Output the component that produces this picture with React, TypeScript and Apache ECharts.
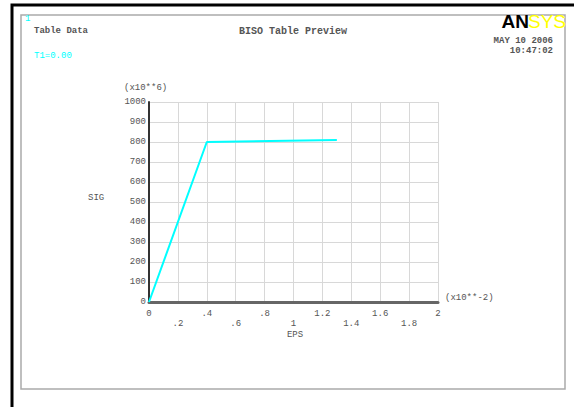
import React, { useEffect, useRef } from "react";
import * as echarts from "echarts";

const eps = [0, 0.4, 1.3];
const sig = [0, 800, 810];
const xTickLabels = ["0", ".2", ".4", ".6", ".8", "1", "1.2", "1.4", "1.6", "1.8", "2"];
const yTickLabels = ["0", "100", "200", "300", "400", "500", "600", "700", "800", "900", "1000"];
const titleText = "BISO Table Preview";
const xName = "EPS";
const yName = "SIG";
const xExp = "(x10**-2)";
const yExp = "(x10**6)";
const dateText = "MAY 10 2006";
const timeText = "10:47:02";

const MONO = "'Liberation Mono', 'DejaVu Sans Mono', monospace";
const TXT = "#555";

export default function App() {
  const ref = useRef<HTMLDivElement>(null);
  useEffect(() => {
    if (!ref.current) return;
    const chart = echarts.init(ref.current, undefined, { renderer: "svg" });
    const data = eps.map((e, i) => [e, sig[i]]);
    chart.setOption({
      animation: false,
      backgroundColor: "#fff",
      grid: { left: 149, top: 102, right: 136, bottom: 105, containLabel: false },
      xAxis: {
        type: "value",
        min: 0,
        max: 2,
        interval: 0.2,
        axisLine: { show: true, onZero: false, lineStyle: { color: "#666", width: 3 } },
        axisTick: { show: false },
        splitLine: { show: true, lineStyle: { color: "#d8d8d8", width: 1 } },
        axisLabel: {
          margin: 7,
          fontFamily: MONO,
          fontSize: 9,
          color: TXT,
          lineHeight: 10,
          showMaxLabel: true,
          showMinLabel: true,
          formatter: (v: number) => {
            const i = Math.round(v / 0.2);
            const s = xTickLabels[i] ?? "";
            return i % 2 === 1 ? "\n" + s : s;
          },
        },
      },
      yAxis: {
        type: "value",
        min: 0,
        max: 1000,
        interval: 100,
        axisLine: { show: true, lineStyle: { color: "#333", width: 2 } },
        axisTick: { show: false },
        splitLine: { show: true, lineStyle: { color: "#d8d8d8", width: 1 } },
        axisLabel: {
          margin: 3,
          fontFamily: MONO,
          fontSize: 9,
          color: TXT,
          formatter: (v: number) => yTickLabels[Math.round(v / 100)] ?? "",
        },
      },
      series: [
        {
          type: "line",
          data,
          symbol: "none",
          lineStyle: { color: "#00ffff", width: 2 },
        },
      ],
      graphic: [
        { type: "rect", shape: { x: 12, y: 5, width: 620, height: 450 }, style: { fill: "none", stroke: "#000", lineWidth: 3 } },
        { type: "rect", shape: { x: 21, y: 15, width: 544, height: 374 }, style: { fill: "none", stroke: "#aaa", lineWidth: 1.5 } },
        { type: "text", x: 25, y: 14, style: { text: "1", font: `9px ${MONO}`, fill: "#00ffff" } },
        { type: "text", x: 34, y: 26, style: { text: "Table Data", font: `bold 9px ${MONO}`, fill: TXT } },
        { type: "text", x: 34, y: 51, style: { text: "T1=0.00", font: `9px ${MONO}`, fill: "#00ffff" } },
        { type: "text", x: 293, y: 26, style: { text: titleText, font: `bold 10px ${MONO}`, fill: TXT, align: "center" } },
        { type: "text", x: 529, y: 12, style: { text: "AN", font: "bold 19px 'Liberation Sans', sans-serif", fill: "#000", align: "right" } },
        { type: "text", x: 528, y: 12, style: { text: "SYS", font: "19px 'Liberation Sans', sans-serif", fill: "#ffff00", align: "left" } },
        { type: "text", x: 553, y: 36, style: { text: dateText, font: `bold 9px ${MONO}`, fill: TXT, align: "right" } },
        { type: "text", x: 553, y: 46, style: { text: timeText, font: `bold 9px ${MONO}`, fill: TXT, align: "right" } },
        { type: "text", x: 124, y: 83, style: { text: yExp, font: `9px ${MONO}`, fill: TXT } },
        { type: "text", x: 445, y: 293, style: { text: xExp, font: `9px ${MONO}`, fill: TXT } },
        { type: "text", x: 88, y: 193, style: { text: yName, font: `9px ${MONO}`, fill: TXT } },
        { type: "text", x: 295, y: 330, style: { text: xName, font: `9px ${MONO}`, fill: TXT, align: "center" } },
      ],
    });
    return () => chart.dispose();
  }, []);
  return (
    <div
      ref={ref}
      style={{ position: "fixed", left: 0, top: 0, width: 574, height: 407 }}
    />
  );
}
